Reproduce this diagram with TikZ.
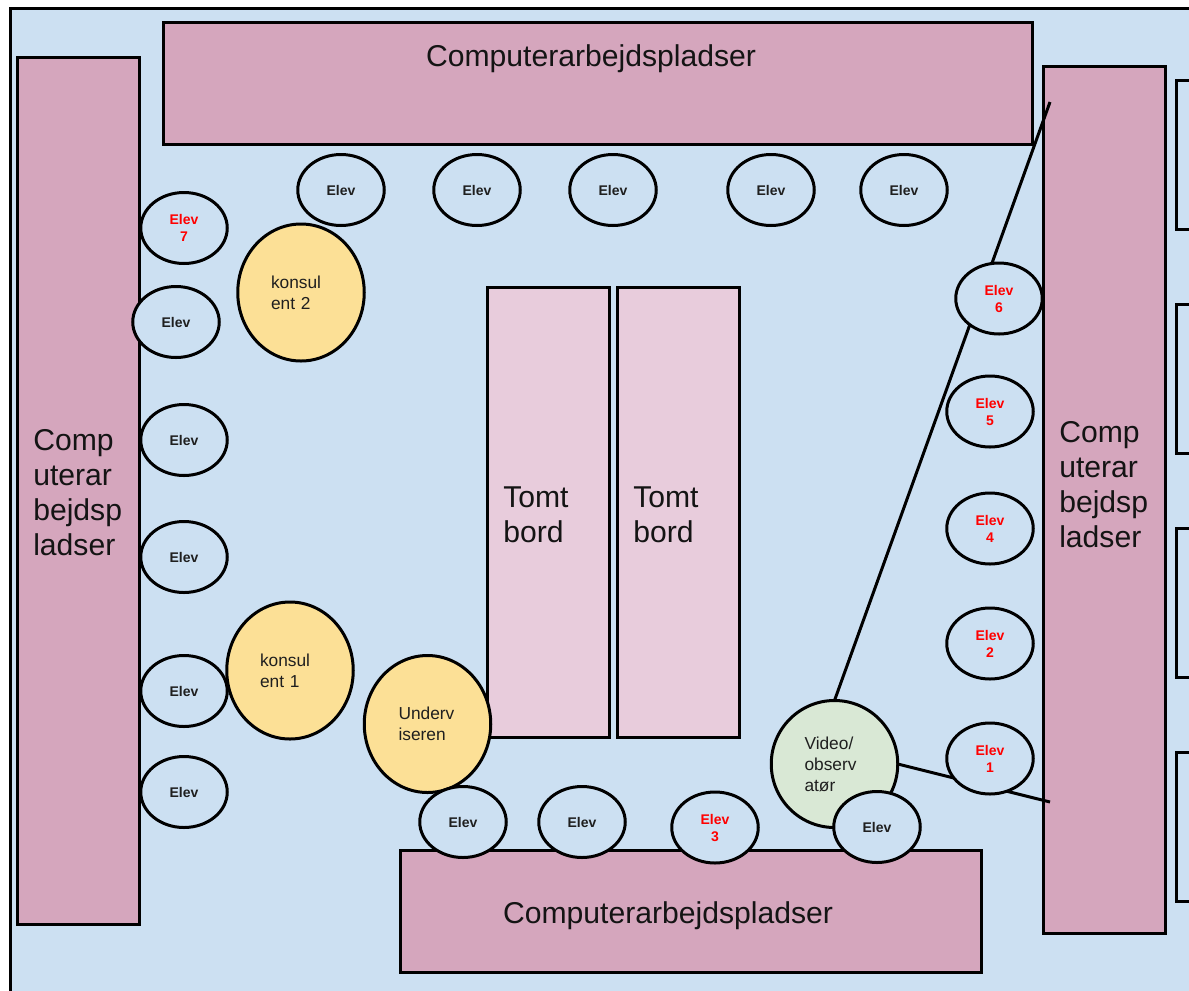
\documentclass[tikz,border=0pt]{standalone}
\usepackage{fontspec}
\setmainfont{Liberation Sans}
\usetikzlibrary{shapes.geometric}
\definecolor{roombg}{HTML}{CCE0F2}
\definecolor{deskcol}{HTML}{D5A6BD}
\definecolor{tablecol}{HTML}{E8CCDC}
\definecolor{yellowcol}{HTML}{FCE096}
\definecolor{greencol}{HTML}{D9E8D5}
\tikzset{
  base/.style={draw=black,line width=2.25pt,inner sep=0pt,outer sep=0pt},
  sized/.style n args={2}{minimum width=#1*0.75pt,minimum height=#2*0.75pt},
  desk/.style={base,rectangle,fill=deskcol},
  tablebox/.style={base,rectangle,fill=tablecol},
  bigtext/.style={inner sep=0pt,font=\fontsize{22.6pt}{26.25pt}\selectfont,align=left,text=black!92},
  windowbox/.style={base,rectangle,fill=roombg},
  elev/.style={base,ellipse,fill=roombg,sized={86.5}{71},font=\fontsize{10.5pt}{12.75pt}\selectfont\bfseries,text=black!88,align=center},
  relev/.style={elev,text=red},
  person/.style={base,ellipse,sized={126.5}{137},font=\fontsize{13pt}{15.75pt}\selectfont,text=black!88,text width=45pt,align=left},
  wire/.style={draw=black,line width=2.25pt}
}
\begin{document}
\begin{tikzpicture}[x=0.75pt,y=-0.75pt]
\useasboundingbox (0,0) rectangle (1189,990);
\clip (0,0) rectangle (1189,990);
\fill[white] (0,0) rectangle (1189,990);
\draw[line width=2.25pt,fill=roombg] (10,1010) -- (10,8) -- (1210,8) -- (1210,1010) -- cycle;
% windows on the right edge
\node[windowbox,sized={30}{149}] (w1) at (1191,154.5) {};
\node[windowbox,sized={30}{149}] (w2) at (1191,378.5) {};
\node[windowbox,sized={30}{149}] (w3) at (1191,602.5) {};
\node[windowbox,sized={30}{149}] (w4) at (1191,826.5) {};
% desks
\node[desk,sized={122}{867}] (dl) at (78.5,491) {};
\node[bigtext,anchor=west] (dltext) at (33,493) {Comp\\uterar\\bejdsp\\ladser};
\node[desk,sized={869}{122}] (dt) at (598,83.5) {};
\node[bigtext,anchor=center] (dttext) at (591,58.5) {Computerarbejdspladser};
\node[desk,sized={122}{867}] (dr) at (1104.5,500) {};
\node[bigtext,anchor=west] (drtext) at (1059,484.5) {Comp\\uterar\\bejdsp\\ladser};
\node[desk,sized={581}{122}] (db) at (691,911) {};
\node[bigtext,anchor=center] (dbtext) at (668,916) {Computerarbejdspladser};
% tables
\node[tablebox,sized={122}{450}] (t1) at (548.5,512.5) {};
\node[bigtext,anchor=west] (t1text) at (503,514.5) {Tomt\\bord};
\node[tablebox,sized={122}{450}] (t2) at (678.5,512.5) {};
\node[bigtext,anchor=west] (t2text) at (633,514.5) {Tomt\\bord};
% sight lines
\coordinate (camtop) at (1050,102);
\coordinate (camright) at (1050,802);
\node[person,fill=greencol,sized={126.5}{127}] (video) at (834.5,764) {Video/\\observ\\atør};
\draw[wire] (camtop) -- (video.north);
\draw[wire] (video.east) -- (camright);
% people
\node[person,fill=yellowcol] (k2) at (301,292.5) {konsul\\ent 2};
\node[person,fill=yellowcol] (k1) at (290,670.5) {konsul\\ent 1};
\node[person,fill=yellowcol,text width=43.5pt] (u) at (427.5,724) {Underv\\iseren};
% pupils
\node[elev] (e1) at (341,190) {Elev};
\node[elev] (e2) at (477,190) {Elev};
\node[elev] (e3) at (613,190) {Elev};
\node[elev] (e4) at (771,190) {Elev};
\node[elev] (e5) at (904,190) {Elev};
\node[relev] (r7) at (184,228) {Elev\\7};
\node[elev] (e6) at (176,322) {Elev};
\node[elev] (e7) at (184,440) {Elev};
\node[elev] (e8) at (184,557) {Elev};
\node[elev] (e9) at (184,691) {Elev};
\node[elev] (e10) at (184,792) {Elev};
\node[elev] (e11) at (463,822) {Elev};
\node[elev] (e12) at (582,822) {Elev};
\node[relev] (r3) at (715,827.5) {Elev\\3};
\node[elev] (e13) at (877,827) {Elev};
\node[relev] (r6) at (999,298.5) {Elev\\6};
\node[relev] (r5) at (990,411.5) {Elev\\5};
\node[relev] (r4) at (990,528.5) {Elev\\4};
\node[relev] (r2) at (990,643.5) {Elev\\2};
\node[relev] (r1) at (990,758.5) {Elev\\1};
\end{tikzpicture}
\end{document}
